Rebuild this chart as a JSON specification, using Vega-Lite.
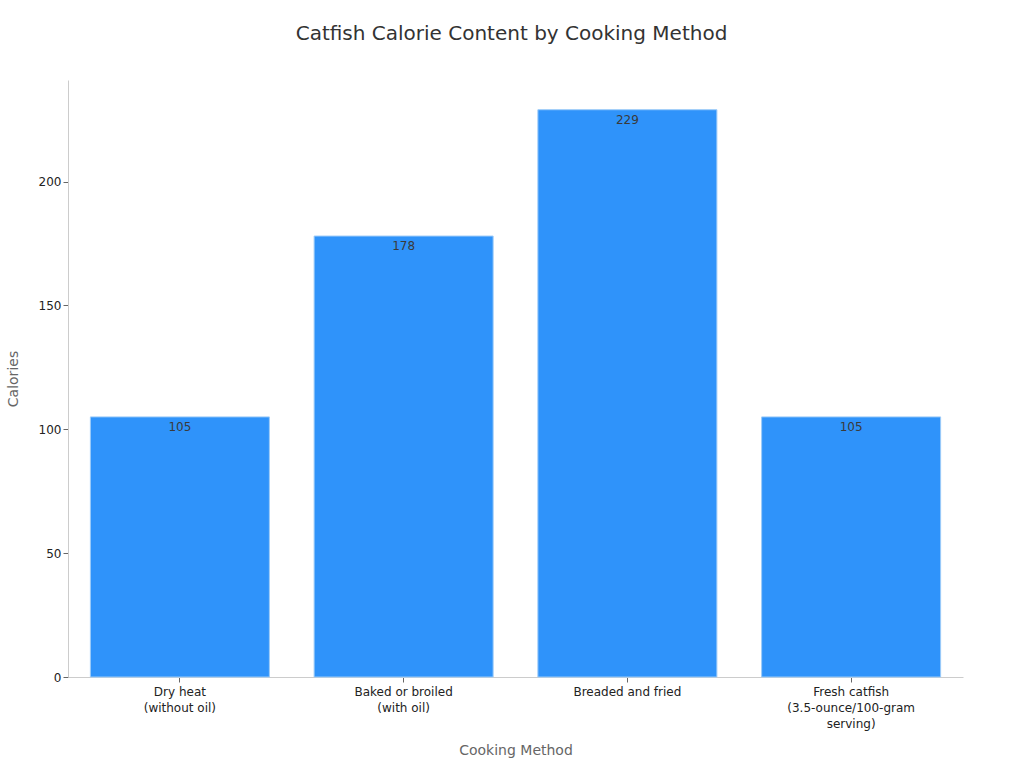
{
  "$schema": "https://vega.github.io/schema/vega-lite/v6.json",
  "width": 895,
  "height": 597,
  "autosize": "none",
  "padding": {"left": 68, "top": 80, "right": 61, "bottom": 91},
  "title": {
    "text": "Catfish Calorie Content by Cooking Method",
    "anchor": "middle",
    "fontSize": 20,
    "fontWeight": "normal",
    "color": "#333333",
    "font": "DejaVu Sans",
    "offset": 36,
    "dx": -4
  },
  "data": {
    "values": [
      {"method": "Dry heat (without oil)", "calories": 105},
      {"method": "Baked or broiled (with oil)", "calories": 178},
      {"method": "Breaded and fried", "calories": 229},
      {"method": "Fresh catfish (3.5-ounce/100-gram serving)", "calories": 105}
    ]
  },
  "encoding": {
    "x": {
      "field": "method",
      "type": "nominal",
      "sort": null,
      "title": "Cooking Method",
      "scale": {"paddingInner": 0.2, "paddingOuter": 0.1},
      "axis": {
        "labelAngle": 0,
        "labelExpr": "datum.label == 'Dry heat (without oil)' ? ['Dry heat', '(without oil)'] : datum.label == 'Baked or broiled (with oil)' ? ['Baked or broiled', '(with oil)'] : datum.label == 'Breaded and fried' ? 'Breaded and fried' : ['Fresh catfish', '(3.5-ounce/100-gram', 'serving)']",
        "labelLineHeight": 16,
        "labelPadding": 4,
        "titlePadding": 14
      }
    },
    "y": {
      "field": "calories",
      "type": "quantitative",
      "title": "Calories",
      "scale": {"domain": [0, 241], "nice": false},
      "axis": {"grid": false, "tickCount": 5, "titlePadding": 18}
    }
  },
  "layer": [
    {
      "mark": {"type": "bar", "color": "#2f93fa", "stroke": "#9ccbf8", "strokeWidth": 1}
    },
    {
      "mark": {"type": "text", "baseline": "top", "dy": 5, "fontSize": 12, "color": "#3a3a3a", "font": "DejaVu Sans"},
      "encoding": {"text": {"field": "calories", "type": "quantitative"}}
    }
  ],
  "config": {
    "view": {"stroke": null},
    "axis": {
      "labelFont": "DejaVu Sans",
      "titleFont": "DejaVu Sans",
      "labelFontSize": 12,
      "titleFontSize": 14,
      "titleFontWeight": "normal",
      "labelColor": "#222222",
      "titleColor": "#666666",
      "domainColor": "#cccccc",
      "tickColor": "#666666",
      "tickSize": 5
    }
  }
}
